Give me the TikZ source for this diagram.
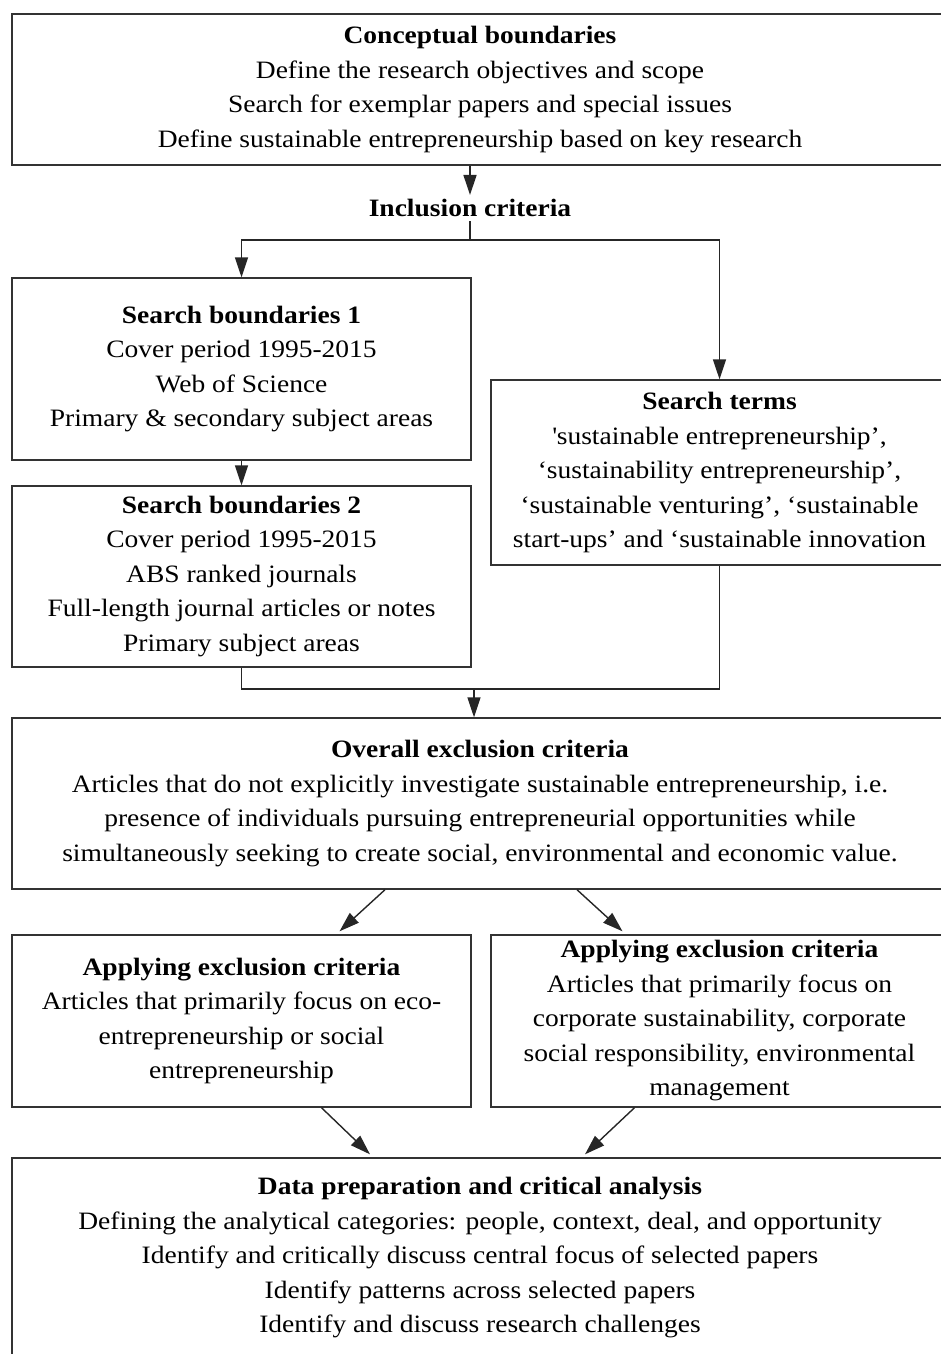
\documentclass[tikz,border=0pt]{standalone}
\usepackage{fontspec}
\setmainfont{Liberation Serif}[FakeStretch=1.1]
\usetikzlibrary{arrows.meta}

\tikzset{
    stage/.style={draw=black!80, line width=1.4pt, align=center, inner sep=0pt,
        font=\fontsize{25}{34.5}\selectfont},
    label/.style={align=center, inner sep=4pt, font=\fontsize{25}{34.5}\selectfont\bfseries},
    link/.style={draw=black!85, line width=1.4pt},
    arr/.style={link, -{Triangle[length=20pt,width=13pt]}}
}

\begin{document}
\begin{tikzpicture}[x=1pt, y=-1pt]
    \useasboundingbox (0,0) rectangle (941,1354);
    \clip (0,0) rectangle (941,1354);
    % boxes
    \node[stage, minimum width=936pt, minimum height=151pt] (concept) at (480,89.5)
        {\textbf{Conceptual boundaries}\\
         Define the research objectives and scope\\
         Search for exemplar papers and special issues\\
         Define sustainable entrepreneurship based on key research};
    \node[label] (incl) at (470,208) {Inclusion criteria};
    \node[stage, minimum width=459pt, minimum height=182pt] (sb1) at (241.5,369)
        {\textbf{Search boundaries 1}\\
         Cover period 1995-2015\\
         Web of Science\\
         Primary \& secondary subject areas};
    \node[stage, minimum width=459pt, minimum height=181pt] (sb2) at (241.5,576.5)
        {\textbf{Search boundaries 2}\\
         Cover period 1995-2015\\
         ABS ranked journals\\
         Full-length journal articles or notes\\
         Primary subject areas};
    \node[stage, minimum width=457pt, minimum height=185pt] (terms) at (719.5,472.5)
        {\textbf{Search terms}\\
         \textquotesingle sustainable entrepreneurship’,\\
         ‘sustainability entrepreneurship’,\\
         ‘sustainable venturing’, ‘sustainable\\
         start-ups’ and ‘sustainable innovation};
    \node[stage, minimum width=936pt, minimum height=171pt] (overall) at (480,803.5)
        {\textbf{Overall exclusion criteria}\\
         Articles that do not explicitly investigate sustainable entrepreneurship, i.e.\\
         presence of individuals pursuing entrepreneurial opportunities while\\
         simultaneously seeking to create social, environmental and economic value.};
    \node[stage, minimum width=459pt, minimum height=172pt] (applyL) at (241.5,1021)
        {\textbf{Applying exclusion criteria}\\
         Articles that primarily focus on eco-\\
         entrepreneurship or social\\
         entrepreneurship};
    \node[stage, minimum width=457pt, minimum height=172pt] (applyR) at (719.5,1021)
        {\textbf{Applying exclusion criteria}\\
         Articles that primarily focus on\\
         corporate sustainability, corporate\\
         social responsibility, environmental\\
         management};
    \node[stage, minimum width=936pt, minimum height=200pt] (data) at (480,1258)
        {\textbf{Data preparation and critical analysis}\\
         Defining the analytical categories: people, context, deal, and opportunity\\
         Identify and critically discuss central focus of selected papers\\
         Identify patterns across selected papers\\
         Identify and discuss research challenges};
    % connectors
    \coordinate (split) at (470,240);
    \coordinate (merge) at (474,689);
    \draw[arr] (incl.north |- concept.south) -- (incl.north);
    \draw[link] (incl.south) -- (split);
    \draw[arr] (split) -| (sb1.north);
    \draw[arr] (split) -| (terms.north);
    \draw[arr] (sb1) -- (sb2);
    \draw[link] (sb2.south) |- (merge) -| (terms.south);
    \draw[arr] (merge) -- (merge |- overall.north);
    \draw[arr] ([xshift=-95pt]overall.south) -- ([xshift=98pt, yshift=3pt]applyL.north);
    \draw[arr] ([xshift=97pt]overall.south) -- ([xshift=-97pt, yshift=3pt]applyR.north);
    \draw[arr] ([xshift=80pt]applyL.south) -- ([xshift=-110pt, yshift=3pt]data.north);
    \draw[arr] ([xshift=-85pt]applyR.south) -- ([xshift=105pt, yshift=3pt]data.north);
\end{tikzpicture}
\end{document}
